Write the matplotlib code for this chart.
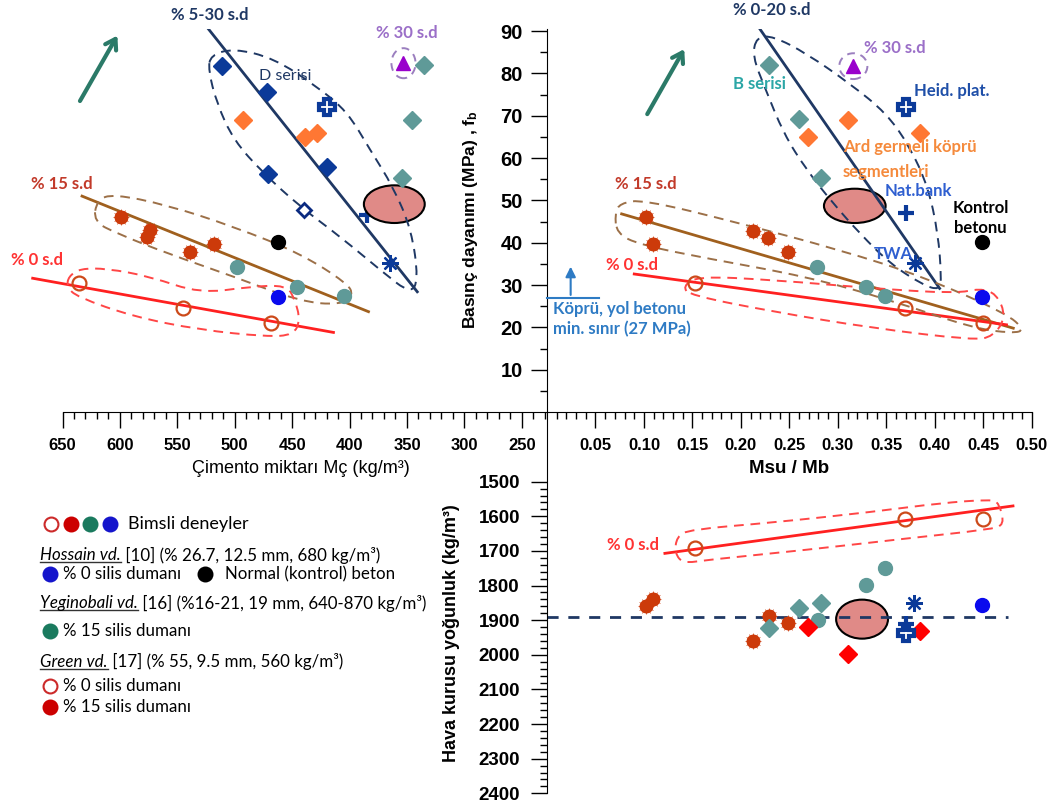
import matplotlib
matplotlib.use("Agg")
import matplotlib.pyplot as plt
from matplotlib.patches import Ellipse, PathPatch
from matplotlib.path import Path

W, H = 1057, 809
plt.rcParams['font.family'] = ['Lato', 'DejaVu Sans']
plt.rcParams['mathtext.default'] = 'regular'
AXF = 'Liberation Sans'

# ---------------- top-left: cement content vs strength ----------------
tl_dser_cem = [511, 472, 471, 420]
tl_dser_fb = [81.8, 75.5, 56.2, 57.9]
tl_dopen_cem = [440]
tl_dopen_fb = [47.7]
tl_heid_cem, tl_heid_fb = [420], [72.1]
tl_nat_cem, tl_nat_fb = [385], [46.5]
tl_twa_cem, tl_twa_fb = [365], [35.1]
tl_ard_cem = [493, 439, 428]
tl_ard_fb = [69.0, 65.0, 66.0]
tl_sf30_cem, tl_sf30_fb = [353], [82.4]
tl_bser_cem = [335, 346, 354]
tl_bser_fb = [82.0, 69.0, 55.2]
tl_kont_cem, tl_kont_fb = [462], [40.1]
tl_hos_cem, tl_hos_fb = [462], [27.2]
tl_yeg_cem = [498, 446, 405]
tl_yeg_fb = [34.3, 29.5, 27.4]
tl_g15_cem = [599, 574, 576, 539, 518]
tl_g15_fb = [46.1, 43.0, 41.4, 37.7, 39.6]
tl_g0_cem = [636, 545, 468]
tl_g0_fb = [30.4, 24.5, 21.1]
tl_fit_navy = ([525, 341], [91.2, 28.4])
tl_fit_brown = ([633, 383.5], [51.0, 23.7])
tl_fit_red = ([676, 414], [31.6, 18.8])
tl_focus = (361, 49.1)

# ---------------- top-right: Msu/Mb vs strength ----------------
tr_bser_msu = [0.229, 0.260, 0.283]
tr_bser_fb = [82.0, 69.2, 55.2]
tr_ard_msu = [0.269, 0.310, 0.385]
tr_ard_fb = [65.0, 69.1, 66.0]
tr_sf30_msu, tr_sf30_fb = [0.316], [81.7]
tr_heid_msu, tr_heid_fb = [0.370], [72.1]
tr_nat_msu, tr_nat_fb = [0.370], [46.9]
tr_twa_msu, tr_twa_fb = [0.380], [35.1]
tr_kont_msu, tr_kont_fb = [0.449], [40.1]
tr_hos_msu, tr_hos_fb = [0.449], [27.2]
tr_g15_msu = [0.102, 0.109, 0.212, 0.228, 0.249]
tr_g15_fb = [46.1, 39.6, 42.8, 41.2, 37.7]
tr_yeg_msu = [0.279, 0.329, 0.349]
tr_yeg_fb = [34.3, 29.5, 27.4]
tr_g0_msu = [0.153, 0.369, 0.450]
tr_g0_fb = [30.5, 24.5, 21.1]
tr_fit_navy = ([0.212, 0.405], [93.0, 29.2])
tr_fit_brown = ([0.077, 0.481], [46.8, 19.8])
tr_fit_red = ([0.090, 0.474], [32.6, 20.6])
tr_focus = (0.3175, 48.7)
min_limit = 27  # MPa

# ---------------- bottom-right: Msu/Mb vs air-dry density ----------------
br_g0_msu = [0.153, 0.369, 0.450]
br_g0_den = [1691, 1609, 1609]
br_g15_msu = [0.102, 0.109, 0.2285, 0.249, 0.212]
br_g15_den = [1859, 1838, 1888, 1909, 1960]
br_bser_msu = [0.260, 0.283, 0.229]
br_bser_den = [1866, 1850, 1922]
br_yeg_msu = [0.280, 0.329, 0.349]
br_yeg_den = [1900, 1799, 1749]
br_ard_msu = [0.269, 0.310, 0.385]
br_ard_den = [1921, 1999, 1932]
br_heid_msu, br_heid_den = [0.370], [1936]
br_nat_msu, br_nat_den = [0.370], [1912]
br_twa_msu, br_twa_den = [0.379], [1850]
br_hos_msu, br_hos_den = [0.449], [1856]
br_fit_red = ([0.1216, 0.4807], [1707, 1570])
ref_density = 1890
br_focus = (0.325, 1897)

# group outlines
tl_env_navy = [(521, 84.3), (501, 85.9), (466, 83.6), (428.5, 76.9), (402, 71.0), (382, 61.9),
               (362, 53.2), (346, 43.0), (340, 31.2), (347, 28.0), (370, 32.8), (408, 41.4),
               (443, 48.5), (475, 56.4), (501, 64.2), (515.6, 72.9), (523, 80.8)]
tl_env_brown = [(620, 50.1), (605.6, 51.5), (559, 48.9), (501, 43.8), (443, 37.5), (402, 30.4),
                (396.6, 27.6), (408, 25.3), (443, 26.1), (501, 32.0), (559, 37.5), (602.7, 42.2),
                (623, 45.0)]
tl_env_red = [(644.8, 32.0), (634.6, 33.9), (611.4, 33.9), (573.7, 32.0), (530, 28.0), (486.6, 29.6),
              (454.7, 30.0), (447.4, 26.4), (443, 21.7), (448.8, 18.2), (472, 17.8), (530, 19.4),
              (588, 22.5), (637.5, 27.2), (646.2, 29.6)]
tr_env_navy = [(0.2160, 88.6), (0.2333, 88.8), (0.2677, 84.7), (0.3123, 77.6), (0.3501, 70.6),
               (0.3742, 62.7), (0.3931, 53.2), (0.4034, 42.2), (0.4068, 32.0), (0.4051, 28.8),
               (0.3879, 30.0), (0.3536, 35.1), (0.3226, 42.2), (0.2951, 49.3), (0.2677, 57.2),
               (0.2440, 65.8), (0.2250, 76.5), (0.2120, 84.0)]
tr_env_brown = [(0.0701, 46.9), (0.0752, 49.3), (0.0993, 50.2), (0.1989, 44.6), (0.3020, 38.3),
                (0.3879, 32.0), (0.4738, 23.3), (0.4927, 19.4), (0.4807, 18.6), (0.4394, 19.8),
                (0.3536, 26.5), (0.2677, 32.0), (0.1646, 36.3), (0.0958, 39.5), (0.0718, 42.2)]
tr_env_red = [(0.1402, 29.6), (0.1543, 32.1), (0.2333, 31.2), (0.3364, 29.2), (0.4223, 28.0),
              (0.4463, 29.2), (0.4635, 28.0), (0.4738, 22.5), (0.4601, 17.8), (0.4394, 17.0),
              (0.3364, 19.8), (0.2333, 23.7), (0.1474, 27.6)]
br_env_red = [(0.1337, 1659), (0.1474, 1638), (0.2333, 1618), (0.3364, 1587), (0.4051, 1562),
              (0.4584, 1551), (0.4663, 1562), (0.4721, 1625), (0.4566, 1638), (0.3707, 1664),
              (0.2677, 1697), (0.1646, 1726), (0.1405, 1736), (0.1319, 1707)]

NAVY = '#0b3a99'
NAVY_LN = '#1f3864'
ORANGE = '#ff7733'
TEAL = '#5f9a98'
RUST = '#cc3a0a'
PURPLE = '#9900cc'
PURPLE_LT = '#9b7fbf'
BROWN = '#a0601e'
BROWN_DASH = '#9c7048'
RED = '#ff2020'
RED_DASH = '#ff4646'
PINK = '#e08a87'
GREEN = '#2b7a68'
BLUE = '#0a0aee'

fig = plt.figure(figsize=(W / 100, H / 100), dpi=100)

# full-figure overlay in pixel units for titles and the key
ax_px = fig.add_axes([0, 0, 1, 1], zorder=-1)
ax_px.set_xlim(0, W)
ax_px.set_ylim(H, 0)
ax_px.axis('off')


def px_axes(x0, y0, x1, y1):
    ax = fig.add_axes([x0 / W, 1 - y1 / H, (x1 - x0) / W, (y1 - y0) / H])
    ax.patch.set_visible(False)
    for s in ax.spines.values():
        s.set_visible(False)
    return ax


def outline(ax, pts, color):
    n = len(pts)
    mids = [((pts[i][0] + pts[(i + 1) % n][0]) / 2, (pts[i][1] + pts[(i + 1) % n][1]) / 2)
            for i in range(n)]
    verts = [mids[-1]]
    codes = [Path.MOVETO]
    for i in range(n):
        verts += [pts[i], mids[i]]
        codes += [Path.CURVE3, Path.CURVE3]
    ax.add_patch(PathPatch(Path(verts, codes), fill=False, ec=color, lw=1.4,
                           ls=(0, (5, 3.5)), zorder=2.2, clip_on=False))


def spiky(ax, x, y):
    ax.plot(x, y, 'o', ms=9, color=RUST, zorder=3, clip_on=False)
    ax.plot(x, y, ls='none', marker=(12, 1, 0), ms=12.5, color=RUST, mew=0, zorder=3, clip_on=False)


def heid(ax, x, y):
    ax.plot(x, y, 'P', ms=11.5, mfc='white', mec=NAVY, mew=3, zorder=3)


def label(ax, x, y, s, color, size=12, weight='bold', **kw):
    ax.text(x, y, s, color=color, fontsize=size, fontweight=weight, ha='center', va='center',
            zorder=5, clip_on=False, **kw)


tick_kw = dict(direction='out', width=1, color='black')
DM = 9.5  # diamond marker size

# ---- top-left panel ----
ax_tl = px_axes(16.6, 28.5, 547, 412)
ax_tl.set_xlim(690, 228)
ax_tl.set_ylim(0, 90.6)
ax_tl.spines['bottom'].set_visible(True)
ax_tl.spines['bottom'].set_bounds(228, 650)
ax_tl.set_yticks([])
ax_tl.set_xticks(range(250, 651, 50), [str(v) for v in range(250, 651, 50)],
                 fontsize=12, fontweight='bold', fontfamily=AXF)
ax_tl.set_xticks([v for v in range(230, 651, 10) if v % 50], minor=True)
ax_tl.tick_params(axis='x', which='major', length=11.5, pad=7.5, **tick_kw)
ax_tl.tick_params(axis='x', which='minor', length=5, **tick_kw)

ax_tl.plot(*tl_fit_navy, color=NAVY_LN, lw=2, zorder=2)
ax_tl.plot(*tl_fit_brown, color=BROWN, lw=2, zorder=2, clip_on=False)
ax_tl.plot(*tl_fit_red, color=RED, lw=2, zorder=2, clip_on=False)
outline(ax_tl, tl_env_navy, NAVY_LN)
outline(ax_tl, tl_env_brown, BROWN_DASH)
outline(ax_tl, tl_env_red, RED_DASH)
ax_tl.add_patch(Ellipse(tl_focus, 53, 8.9, fc=PINK, ec='black', lw=1.5, zorder=1.8))
ax_tl.add_patch(Ellipse((tl_sf30_cem[0], tl_sf30_fb[0]), 21, 7.1, fill=False, ec=PURPLE_LT,
                        lw=1.4, ls=(0, (4, 3)), zorder=2.2))

ax_tl.plot(tl_dser_cem, tl_dser_fb, 'D', ms=DM, color=NAVY, zorder=3)
ax_tl.plot(tl_dopen_cem, tl_dopen_fb, 'D', ms=7.5, mfc='white', mec='#0a2a80', mew=2, zorder=3)
heid(ax_tl, tl_heid_cem, tl_heid_fb)
ax_tl.plot(tl_nat_cem, tl_nat_fb, '+', ms=11, mew=3, color=NAVY, zorder=1.7)
ax_tl.plot(tl_twa_cem, tl_twa_fb, ls='none', marker=(8, 2, 0), ms=12, mew=1.6, color=NAVY, zorder=3)
ax_tl.plot(tl_ard_cem, tl_ard_fb, 'D', ms=DM, color=ORANGE, zorder=3)
ax_tl.plot(tl_sf30_cem, tl_sf30_fb, '^', ms=10, color=PURPLE, zorder=3)
ax_tl.plot(tl_bser_cem, tl_bser_fb, 'D', ms=DM, color=TEAL, zorder=3)
ax_tl.plot(tl_kont_cem, tl_kont_fb, 'o', ms=10, color='black', zorder=3)
ax_tl.plot(tl_hos_cem, tl_hos_fb, 'o', ms=10, color=BLUE, zorder=3)
ax_tl.plot(tl_yeg_cem, tl_yeg_fb, 'o', ms=10, color=TEAL, zorder=3)
spiky(ax_tl, tl_g15_cem, tl_g15_fb)
ax_tl.plot(tl_g0_cem, tl_g0_fb, 'o', ms=10, mfc='none', mec='#cc4a1a', mew=1.6, zorder=3)

label(ax_tl, 521.4, 93.8, '% 5-30 s.d', NAVY_LN)
label(ax_tl, 456, 79.4, 'D serisi', NAVY_LN, size=11.5, weight='normal')
label(ax_tl, 350, 89.5, '% 30 s.d', '#9b6fc8')
label(ax_tl, 650.6, 53.8, '% 15 s.d', '#c23a2a')
label(ax_tl, 672.4, 35.9, '% 0 s.d', '#ff3333')
ax_tl.annotate('', xy=(601, 89.5), xytext=(636, 72.9), annotation_clip=False,
               arrowprops=dict(arrowstyle='->,head_length=0.7,head_width=0.45', color=GREEN, lw=3))

# ---- top-right panel ----
ax_tr = px_axes(547, 28.5, 1031.7, 412)
ax_tr.set_xlim(0, 0.5)
ax_tr.set_ylim(0, 90.6)
ax_tr.spines['left'].set_visible(True)
ax_tr.spines['bottom'].set_visible(True)
xt = [i / 100 for i in range(5, 51, 5)]
ax_tr.set_xticks(xt, ['%.2f' % v for v in xt], fontsize=12, fontweight='bold', fontfamily=AXF)
ax_tr.set_xticks([i / 100 for i in range(1, 51) if i % 5], minor=True)
yt = list(range(10, 91, 10))
ax_tr.set_yticks(yt, [str(v) for v in yt], fontsize=14.5, fontweight='bold', fontfamily=AXF)
ax_tr.set_yticks(range(5, 90, 10), minor=True)
ax_tr.tick_params(which='major', length=11.5, pad=7.5, **tick_kw)
ax_tr.tick_params(axis='y', which='major', pad=6)
ax_tr.tick_params(which='minor', length=5, **tick_kw)

ax_tr.plot(*tr_fit_navy, color=NAVY_LN, lw=2, zorder=2)
ax_tr.plot(*tr_fit_brown, color=BROWN, lw=2, zorder=2)
ax_tr.plot(*tr_fit_red, color=RED, lw=2, zorder=2)
outline(ax_tr, tr_env_navy, NAVY_LN)
outline(ax_tr, tr_env_brown, BROWN_DASH)
outline(ax_tr, tr_env_red, RED_DASH)
ax_tr.add_patch(Ellipse(tr_focus, 0.0636, 8.1, fc=PINK, ec='black', lw=1.5, zorder=1.8))
ax_tr.add_patch(Ellipse((tr_sf30_msu[0], tr_sf30_fb[0]), 0.029, 6.1, fill=False, ec=PURPLE_LT,
                        lw=1.4, ls=(0, (4, 3)), zorder=2.2))

ax_tr.plot(tr_bser_msu, tr_bser_fb, 'D', ms=DM, color=TEAL, zorder=3)
ax_tr.plot(tr_ard_msu, tr_ard_fb, 'D', ms=DM, color=ORANGE, zorder=3)
ax_tr.plot(tr_sf30_msu, tr_sf30_fb, '^', ms=10, color=PURPLE, zorder=3)
heid(ax_tr, tr_heid_msu, tr_heid_fb)
ax_tr.plot(tr_nat_msu, tr_nat_fb, '+', ms=11, mew=3, color=NAVY, zorder=3)
ax_tr.plot(tr_twa_msu, tr_twa_fb, ls='none', marker=(8, 2, 0), ms=12, mew=1.6, color=NAVY, zorder=3)
ax_tr.plot(tr_kont_msu, tr_kont_fb, 'o', ms=10, color='black', zorder=3)
ax_tr.plot(tr_hos_msu, tr_hos_fb, 'o', ms=10, color=BLUE, zorder=3)
ax_tr.plot(tr_yeg_msu, tr_yeg_fb, 'o', ms=10, color=TEAL, zorder=3)
spiky(ax_tr, tr_g15_msu, tr_g15_fb)
ax_tr.plot(tr_g0_msu, tr_g0_fb, 'o', ms=10, mfc='none', mec='#cc4a1a', mew=1.6, zorder=3)

ax_tr.plot([0, 0.054], [min_limit, min_limit], color='#2e7bc4', lw=1.5, zorder=3, clip_on=False)
ax_tr.annotate('', xy=(0.0244, 35.0), xytext=(0.0244, min_limit),
               arrowprops=dict(arrowstyle='-|>,head_length=0.6,head_width=0.3',
                               color='#2e7bc4', lw=1.5))
ax_tr.text(0.006, 24.3, 'Köprü, yol betonu', color='#2e7bc4', fontsize=12, fontweight='bold',
           ha='left', va='center')
ax_tr.text(0.006, 19.6, 'min. sınır (27 MPa)', color='#2e7bc4', fontsize=12, fontweight='bold',
           ha='left', va='center')
ax_tr.annotate('', xy=(0.143, 86.3), xytext=(0.102, 69.8),
               arrowprops=dict(arrowstyle='->,head_length=0.7,head_width=0.45', color=GREEN, lw=3))

label(ax_tr, 0.2316, 95.0, '% 0-20 s.d', NAVY_LN)
label(ax_tr, 0.2195, 77.5, 'B serisi', '#2ba6a6')
label(ax_tr, 0.3587, 85.9, '% 30 s.d', '#9b6fc8')
label(ax_tr, 0.4171, 75.9, 'Heid. plat.', '#1f4fa8')
label(ax_tr, 0.374, 62.5, 'Ard germeli köprü', '#f58a3c')
label(ax_tr, 0.350, 56.8, 'segmentleri', '#f58a3c')
label(ax_tr, 0.3828, 52.2, 'Nat.bank', '#2f5fd0')
label(ax_tr, 0.447, 48.3, 'Kontrol', 'black')
label(ax_tr, 0.447, 43.4, 'betonu', 'black')
label(ax_tr, 0.3569, 37.3, 'TWA', '#2f5fd0')
label(ax_tr, 0.102, 53.8, '% 15 s.d', '#c23a2a')
label(ax_tr, 0.0873, 34.7, '% 0 s.d', '#ff3333')

# ---- bottom-right panel ----
ax_br = px_axes(547, 412, 1031.7, 793.3)
ax_br.set_xlim(0, 0.5)
ax_br.set_ylim(2400, 1298.7)
ax_br.spines['left'].set_visible(True)
ax_br.spines['left'].set_bounds(1298.7, 2400)
ax_br.set_xticks([])
dt = list(range(1500, 2401, 100))
ax_br.set_yticks(dt, [str(v) for v in dt], fontsize=13.5, fontweight='bold', fontfamily=AXF)
ax_br.set_yticks([v for v in range(1500, 2401, 20) if v % 100], minor=True)
ax_br.tick_params(axis='y', which='major', length=11.5, pad=8, **tick_kw)
ax_br.tick_params(axis='y', which='minor', length=5, **tick_kw)

ax_br.plot(*br_fit_red, color=RED, lw=2, zorder=2)
outline(ax_br, br_env_red, RED_DASH)
ax_br.axhline(ref_density, xmin=0, xmax=0.951, color=NAVY_LN, lw=2, ls=(0, (4, 3.5)), zorder=2)
ax_br.add_patch(Ellipse(br_focus, 0.0535, 112.7, fc=PINK, ec='black', lw=1.5, zorder=1.8))

ax_br.plot(br_g0_msu, br_g0_den, 'o', ms=10, mfc='none', mec='#cc4a1a', mew=1.6, zorder=3)
spiky(ax_br, br_g15_msu, br_g15_den)
ax_br.plot(br_bser_msu, br_bser_den, 'D', ms=DM, color=TEAL, zorder=3)
ax_br.plot(br_yeg_msu, br_yeg_den, 'o', ms=10, color=TEAL, zorder=3)
ax_br.plot(br_ard_msu, br_ard_den, 'D', ms=DM, color='#ff0000', zorder=3)
heid(ax_br, br_heid_msu, br_heid_den)
ax_br.plot(br_nat_msu, br_nat_den, '+', ms=11, mew=3, color=NAVY, zorder=3)
ax_br.plot(br_twa_msu, br_twa_den, ls='none', marker=(8, 2, 0), ms=12, mew=1.6, color=NAVY, zorder=3)
ax_br.plot(br_hos_msu, br_hos_den, 'o', ms=10, color=BLUE, zorder=3)
label(ax_br, 0.089, 1683, '% 0 s.d', '#ff3333')

# ---- axis titles ----
ax_px.text(301, 468, 'Çimento miktarı Mç (kg/m³)', fontsize=13, fontfamily=AXF,
           ha='center', va='center')
ax_px.text(789, 468, 'Msu / Mb', fontsize=13.5, fontweight='bold', fontfamily=AXF,
           ha='center', va='center')
ax_px.text(470, 220, 'Basınç dayanımı (MPa) , f$_b$', fontsize=12.5, fontweight='bold',
           fontfamily=AXF, rotation=90, ha='center', va='center')
ax_px.text(452, 633, 'Hava kurusu yoğunluk (kg/m³)', fontsize=13, fontweight='bold',
           fontfamily=AXF, rotation=90, ha='center', va='center')

# ---- key ----
key_dots = [('white', '#cc2a2a'), ('#cc0000', '#cc0000'), ('#1a7a5e', '#1a7a5e'), ('#1515cc', '#1515cc')]
for i, (fc, ec) in enumerate(key_dots):
    ax_px.plot(50.7 + 19.8 * i, 524.3, 'o', ms=10, mfc=fc, mec=ec, mew=1.5)
ax_px.text(127.7, 524.3, 'Bimsli deneyler', fontsize=13, ha='left', va='center')

key_rows = [
    (555, 'Hossain vd.', ' [10] (% 26.7, 12.5 mm, 680 kg/m³)'),
    (603, 'Yeginobali vd.', ' [16] (%16-21, 19 mm, 640-870 kg/m³)'),
    (661.7, 'Green vd.', ' [17] (% 55, 9.5 mm, 560 kg/m³)'),
]
key_items = [
    (574.3, 50, ('#1515cc', '#1515cc'), '% 0 silis dumanı'),
    (574.3, 205, ('black', 'black'), 'Normal (kontrol) beton'),
    (630.7, 50, ('#1a7a5e', '#1a7a5e'), '% 15 silis dumanı'),
    (686, 50, ('white', '#cc2a2a'), '% 0 silis dumanı'),
    (706.7, 50, ('#cc0000', '#cc0000'), '% 15 silis dumanı'),
]
for y, x, (fc, ec), txt in key_items:
    ax_px.plot(x, y, 'o', ms=10, mfc=fc, mec=ec, mew=1.5)
    ax_px.text(x + 13 if x < 100 else x + 20, y, txt, fontsize=12.2, ha='left', va='center')

name_texts = []
for y, name, rest in key_rows:
    t = ax_px.text(40, y, name, fontsize=12.2, fontstyle='italic', ha='left', va='center')
    name_texts.append((t, y, rest))

fig.canvas.draw()
inv = ax_px.transData.inverted()
for t, y, rest in name_texts:
    bb = t.get_window_extent()
    (x0, yb), (x1, _) = inv.transform([(bb.x0, bb.y0), (bb.x1, bb.y1)])
    ax_px.plot([x0, x1], [yb - 1, yb - 1], color='#333333', lw=1)
    ax_px.text(x1, y, rest, fontsize=12.2, ha='left', va='center')

fig.savefig('out.png', dpi=100)
